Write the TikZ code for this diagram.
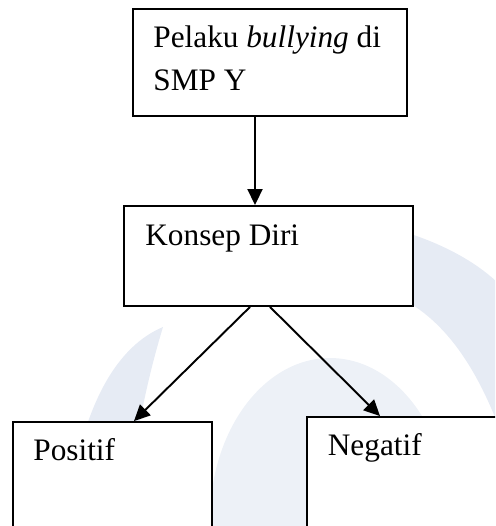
\documentclass[tikz,border=0pt]{standalone}
\usepackage{fontspec}
\setmainfont{Liberation Serif}
\usepackage{tikz}
\usetikzlibrary{arrows.meta,positioning,calc}
\definecolor{wmband}{RGB}{230,235,244}
\definecolor{wmdisk}{RGB}{237,241,247}
\definecolor{boxline}{RGB}{0,0,0}

\begin{document}
\begin{tikzpicture}[
  x=0.02cm, y=-0.02cm,
  font=\fontsize{17.8pt}{24.4pt}\selectfont,
  box/.style={draw=boxline, fill=white, line width=1.1pt, inner sep=0pt},
  txt/.style={inner sep=0pt, anchor=base west, align=left},
  link/.style={-{Triangle[length=0.32cm,width=0.3cm]}, line width=1.1pt, draw=boxline}
]
\useasboundingbox (0,0) rectangle (495,526);
\clip (0,0) rectangle (495,526);

\fill[wmdisk] (330,520) ellipse [x radius=2.4cm, y radius=3.24cm];
\fill[wmband] (290,215) .. controls (380,215) and (460,245) .. (500,285) -- (500,430)
  .. controls (470,350) and (430,305) .. (380,290) -- cycle;
\fill[wmband] (163,327) .. controls (120,345) and (80,400) .. (66,526) -- (125,526)
  .. controls (135,430) and (150,370) .. (163,327) -- cycle;

\node[box, minimum width=5.48cm, minimum height=2.14cm] (pelaku) at (270,62.5) {};
\node[box, minimum width=5.78cm, minimum height=2.0cm] (konsep) at (268.5,256) {};
\node[box, minimum width=3.98cm, minimum height=2.76cm] (positif) at (112.5,491) {};
\node[box, minimum width=4.26cm, minimum height=2.86cm] (negatif) at (413.5,488.5) {};

\node[txt] (pelakutxt) at ($(pelaku.north west)+(21,82)$) {Pelaku \textit{bullying} di\\SMP Y};
\node[txt] (konseptxt) at ($(konsep.north west)+(22,40.5)$) {Konsep Diri};
\node[txt] (positiftxt) at ($(positif.north west)+(21,39.5)$) {Positif};
\node[txt] (negatiftxt) at ($(negatif.north west)+(21.5,39)$) {Negatif};

\draw[link] ($(pelaku.south)+(-15,0)$) -- ($(konsep.north)+(-13.5,0)$);
\draw[link] ($(konsep.south)+(-18.5,0)$) -- ($(positif.north)+(21.5,0)$);
\draw[link] ($(konsep.south)+(1.5,0)$) -- ($(negatif.north)+(-33.5,0)$);
\end{tikzpicture}
\end{document}
